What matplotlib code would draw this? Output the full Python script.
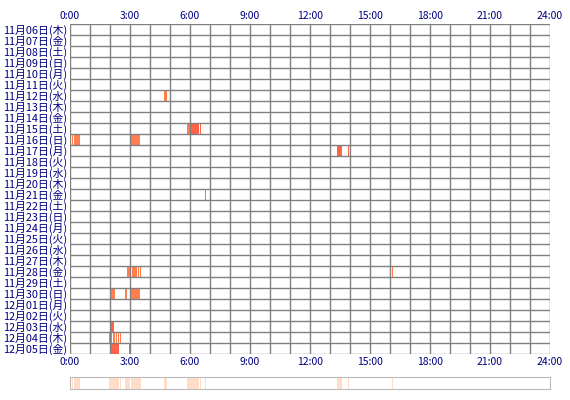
import matplotlib; matplotlib.use("Agg")
import matplotlib.pyplot as plt

plt.rcParams['font.family'] = ['Noto Sans CJK JP', 'DejaVu Sans']

DAYS = ["11月06日(木)", "11月07日(金)", "11月08日(土)", "11月09日(日)", "11月10日(月)",
        "11月11日(火)", "11月12日(水)", "11月13日(木)", "11月14日(金)", "11月15日(土)",
        "11月16日(日)", "11月17日(月)", "11月18日(火)", "11月19日(水)", "11月20日(木)",
        "11月21日(金)", "11月22日(土)", "11月23日(日)", "11月24日(月)", "11月25日(火)",
        "11月26日(水)", "11月27日(木)", "11月28日(金)", "11月29日(土)", "11月30日(日)",
        "12月01日(月)", "12月02日(火)", "12月03日(水)", "12月04日(木)", "12月05日(金)"]
XTICKS = ["0:00", "3:00", "6:00", "9:00", "12:00", "15:00", "18:00", "21:00", "24:00"]

# (row index, start hour, end hour, colour)
SEGMENTS = [
    (6, 4.70, 4.85, "#FF7F50"),
    (9, 5.85, 6.00, "#FF7F50"), (9, 6.00, 6.45, "#FF6347"), (9, 6.50, 6.56, "#FF6347"),
    (10, 0.10, 0.14, "#FF7F50"), (10, 0.20, 0.52, "#FF7F50"), (10, 3.05, 3.50, "#FF7F50"),
    (11, 13.35, 13.60, "#FF6347"), (11, 13.90, 13.96, "#FF6347"),
    (15, 6.74, 6.78, "#999999"),
    (22, 2.85, 3.00, "#FF7F50"), (22, 3.10, 3.35, "#FF7F50"), (22, 3.40, 3.45, "#FF7F50"),
    (22, 3.50, 3.55, "#FF7F50"), (22, 16.10, 16.16, "#FF7F50"),
    (24, 2.05, 2.25, "#FF7F50"), (24, 2.75, 2.85, "#FF7F50"), (24, 3.05, 3.50, "#FF7F50"),
    (27, 2.05, 2.22, "#FF6347"),
    (28, 1.95, 2.00, "#FF7F50"), (28, 2.05, 2.10, "#FF7F50"), (28, 2.15, 2.25, "#FF7F50"),
    (28, 2.30, 2.35, "#FF7F50"), (28, 2.40, 2.45, "#FF7F50"), (28, 2.50, 2.55, "#FF7F50"),
    (29, 2.00, 2.45, "#FF6347"), (29, 2.95, 3.00, "#FF6347"),
]

fig = plt.figure(figsize=(5.7, 4.0), dpi=100)
ax = fig.add_axes([70/570, 1-354/400, 480/570, 330/400])
n = len(DAYS)
for r, s, e, c in SEGMENTS:
    ax.fill_between([s, e], r, r+1, color=c, lw=0)
ax.set_xlim(0, 24); ax.set_ylim(n, 0)
for h in range(25):
    ax.axvline(h, color="#808080", lw=1.0)
for r in range(n+1):
    ax.axhline(r, color="#808080", lw=1.0)
ax.set_yticks([r+0.5 for r in range(n)])
ax.set_yticklabels(DAYS, fontsize=7.8, color="#000080")
ax.set_xticks(range(0, 25, 3))
ax.set_xticklabels(XTICKS, fontsize=7.5, color="#000080")
ax.tick_params(length=0, pad=2, top=True, labeltop=True)
for sp in ax.spines.values():
    sp.set_visible(False)

# summary strip
ax2 = fig.add_axes([70/570, 1-389/400, 480/570, 12/400])
for r, s, e, c in SEGMENTS:
    ax2.axvspan(s, e, color="#FFDDC8", lw=0)
ax2.set_xlim(0, 24); ax2.set_ylim(0, 1)
ax2.set_xticks([]); ax2.set_yticks([])
for sp in ax2.spines.values():
    sp.set_color("#BBBBBB")

fig.savefig("out.png", dpi=100)
